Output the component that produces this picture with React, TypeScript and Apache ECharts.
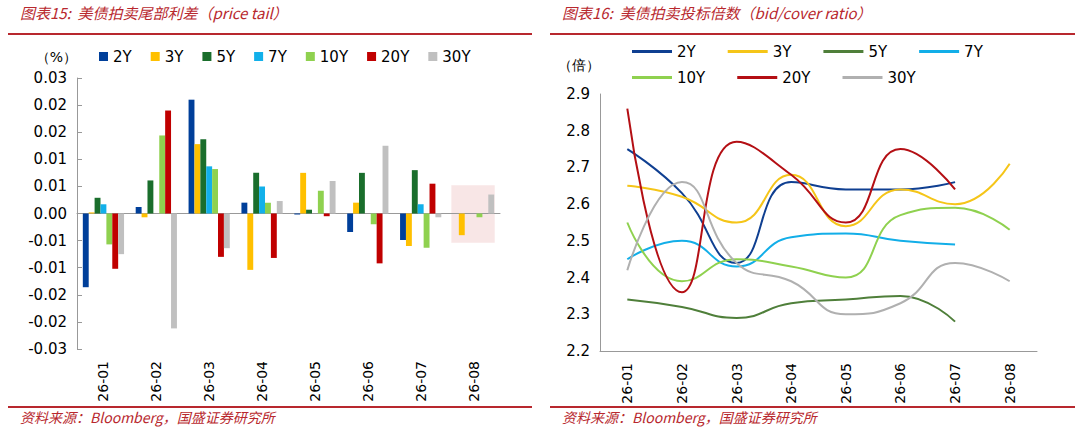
import { useEffect, useRef } from 'react';
import * as echarts from 'echarts';

const months = ['26-01', '26-02', '26-03', '26-04', '26-05', '26-06', '26-07', '26-08'];
const tenors = ['2Y', '3Y', '5Y', '7Y', '10Y', '20Y', '30Y'];

// 尾部利差 (%)
const tail2Y = [-0.0136, 0.0012, 0.021, 0.002, -0.0002, -0.0034, -0.0049, null];
const tail3Y = [0.0002, -0.0007, 0.0128, -0.0104, 0.0075, 0.002, -0.006, -0.004];
const tail5Y = [0.0029, 0.0061, 0.0137, 0.0075, 0.0007, 0.0075, 0.008, null];
const tail7Y = [0.0017, 0, 0.0087, 0.005, 0, 0, 0.0017, null];
const tail10Y = [-0.0057, 0.0144, 0.0082, 0.002, 0.0042, -0.002, -0.0063, -0.0007];
const tail20Y = [-0.0102, 0.019, -0.008, -0.0082, -0.0005, -0.0092, 0.0055, null];
const tail30Y = [-0.0075, -0.0212, -0.0064, 0.0023, 0.006, 0.0125, -0.0007, 0.0035];

// 投标倍数
const bc2Y = [2.75, 2.63, 2.44, 2.66, 2.64, 2.64, 2.66, null];
const bc3Y = [2.65, 2.62, 2.55, 2.68, 2.54, 2.64, 2.6, 2.71];
const bc5Y = [2.34, 2.32, 2.29, 2.33, 2.34, 2.35, 2.28, null];
const bc7Y = [2.45, 2.5, 2.43, 2.51, 2.52, 2.5, 2.49, null];
const bc10Y = [2.55, 2.39, 2.45, 2.43, 2.4, 2.57, 2.59, 2.53];
const bc20Y = [2.86, 2.36, 2.77, 2.68, 2.55, 2.75, 2.64, null];
const bc30Y = [2.42, 2.66, 2.44, 2.39, 2.3, 2.33, 2.44, 2.39];

const tailData = [tail2Y, tail3Y, tail5Y, tail7Y, tail10Y, tail20Y, tail30Y];
const bcData = [bc2Y, bc3Y, bc5Y, bc7Y, bc10Y, bc20Y, bc30Y];
const barColors = ['#003f9a', '#ffc000', '#1a6e2c', '#12b0ea', '#8fd14f', '#c00000', '#c0c0c0'];
const lineColors = ['#0f3f91', '#f5c518', '#4f7f3a', '#12aee8', '#8fd14f', '#b40f14', '#b0b0b0'];

const FONT = '"DejaVu Sans", Verdana, sans-serif';
const RED = '#b8282e';

export default function App() {
  const ref = useRef<HTMLDivElement>(null);

  useEffect(() => {
    if (!ref.current) return;
    const chart = echarts.init(ref.current, null, { renderer: 'svg' });

    const fmt2 = (v: number) => {
      const r = Math.sign(v) * Math.round(Math.abs(v) * 100 + 1e-6) / 100;
      return (r === 0 ? 0 : r).toFixed(2);
    };

    const titleText = (x: number, text: string) => ({
      type: 'text', left: x, top: 5,
      style: { text, fill: RED, font: 'italic 15px "Noto Sans CJK SC", sans-serif' }
    });
    const rule = (x1: number, x2: number, y: number) => ({
      type: 'line', shape: { x1, y1: y, x2, y2: y }, style: { stroke: RED, lineWidth: 2 }
    });
    const source = (x: number) => ({
      type: 'text', left: x, top: 410,
      style: { text: '资料来源：Bloomberg，国盛证券研究所', fill: RED, font: 'italic 14px "Noto Sans CJK SC", sans-serif' }
    });
    const legendText = { fontSize: 15, color: '#000', fontFamily: FONT };

    const option: any = {
      animation: false,
      textStyle: { fontFamily: FONT },
      legend: [
        {
          left: 94, top: 44, itemWidth: 9, itemHeight: 9, itemGap: 19, icon: 'rect',
          textStyle: legendText, data: tenors.map(t => 'b' + t),
          formatter: (n: string) => n.slice(1)
        },
        {
          left: 627, top: 39, itemWidth: 40, itemHeight: 3, itemGap: 32, icon: 'rect',
          textStyle: legendText,
          data: tenors.slice(0, 4).map(t => 'l' + t), formatter: (n: string) => n.slice(1)
        },
        {
          left: 627, top: 65, itemWidth: 40, itemHeight: 3, itemGap: 32, icon: 'rect',
          textStyle: legendText,
          data: tenors.slice(4).map(t => 'l' + t), formatter: (n: string) => n.slice(1)
        }
      ],
      grid: [
        { left: 77, right: 580, top: 78, bottom: 88 },
        { left: 600, right: 43, top: 94, bottom: 86 }
      ],
      xAxis: [
        {
          type: 'category', gridIndex: 0, data: months, position: 'bottom',
          axisLine: { show: false, onZero: false }, axisTick: { show: false },
          axisLabel: { rotate: 90, fontSize: 14, color: '#000', margin: 12, fontFamily: FONT }
        },
        {
          type: 'category', gridIndex: 0, data: months,
          axisLine: { onZero: true, lineStyle: { color: '#999' } },
          axisTick: { inside: false, length: 4, lineStyle: { color: '#999' } },
          axisLabel: { show: false }
        },
        {
          type: 'category', gridIndex: 1, data: months,
          axisLine: { lineStyle: { color: '#999' } },
          axisTick: { inside: true, length: 4, lineStyle: { color: '#999' } },
          axisLabel: { rotate: 90, fontSize: 14, color: '#000', margin: 12, fontFamily: FONT }
        }
      ],
      yAxis: [
        {
          type: 'value', gridIndex: 0, min: -0.025, max: 0.025, interval: 0.005,
          name: '（%）', nameGap: 14, nameTextStyle: { fontSize: 14, color: '#000', align: 'right' },
          axisLine: { show: true, lineStyle: { color: '#999' } },
          axisTick: { show: true, inside: true, length: 5, lineStyle: { color: '#999' } },
          splitLine: { show: false },
          axisLabel: { formatter: fmt2, fontSize: 15, color: '#000', margin: 10, fontFamily: FONT }
        },
        {
          type: 'value', gridIndex: 1, min: 2.2, max: 2.9, interval: 0.1,
          name: '（倍）', nameGap: 22, nameTextStyle: { fontSize: 14, color: '#000', align: 'right' },
          axisLine: { show: true, lineStyle: { color: '#999' } },
          axisTick: { show: false },
          splitLine: { show: false },
          axisLabel: { formatter: (v: number) => v.toFixed(1), fontSize: 15, color: '#000', margin: 10, fontFamily: FONT }
        }
      ],
      series: [
        ...tenors.map((t, i) => ({
          name: 'b' + t, type: 'bar', xAxisIndex: 0, yAxisIndex: 0, data: tailData[i],
          itemStyle: { color: barColors[i] }, barGap: '0%', barCategoryGap: '22%'
        })),
        ...tenors.map((t, i) => ({
          name: 'l' + t, type: 'line', xAxisIndex: 2, yAxisIndex: 1, data: bcData[i],
          smooth: 0.5, showSymbol: false, symbol: 'none',
          lineStyle: { color: lineColors[i], width: 2 }, itemStyle: { color: lineColors[i] }
        }))
      ],
      graphic: [
        titleText(20, '图表15:  美债拍卖尾部利差（price tail）'),
        titleText(562, '图表16:  美债拍卖投标倍数（bid/cover ratio）'),
        rule(8, 532, 34), rule(550, 1075, 34),
        rule(8, 532, 407), rule(550, 1075, 407),
        source(20), source(562)
      ]
    };
    chart.setOption(option);

    // highlight box around the 26-08 band
    const left = chart.convertToPixel({ xAxisIndex: 0 }, '26-07');
    const right = chart.convertToPixel({ xAxisIndex: 0 }, '26-08');
    const band = right - left;
    const yTop = chart.convertToPixel({ yAxisIndex: 0 }, 0.0052);
    const yBot = chart.convertToPixel({ yAxisIndex: 0 }, -0.0054);
    chart.setOption({
      graphic: [
        ...option.graphic,
        {
          type: 'rect', z: -1,
          shape: { x: right - band * 0.42, y: yTop, width: band * 0.82, height: yBot - yTop },
          style: { fill: 'rgba(240,200,200,0.45)' }
        }
      ]
    });

    return () => chart.dispose();
  }, []);

  return <div ref={ref} style={{ position: 'fixed', left: 0, top: 0, width: 1080, height: 437, background: '#fff' }} />;
}
